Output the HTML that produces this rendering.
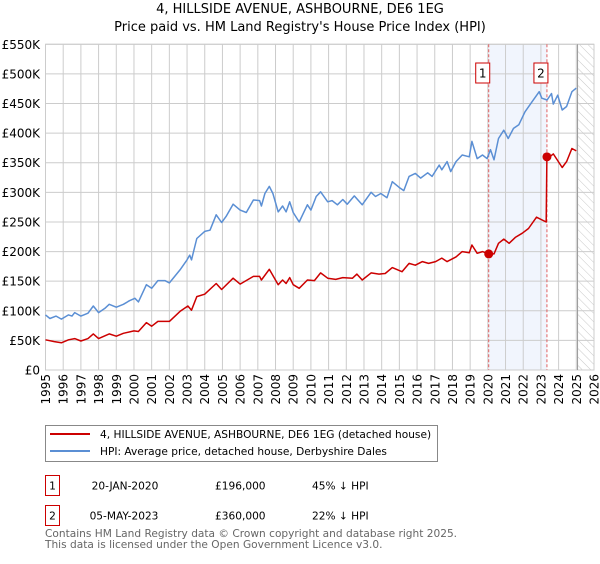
<!DOCTYPE html>
<html><head><meta charset="utf-8"><style>
body{margin:0;background:#fff;font-family:"DejaVu Sans","Liberation Sans",sans-serif;}
svg text{font-family:"DejaVu Sans","Liberation Sans",sans-serif;}
</style></head><body>
<svg id="chart" width="600" height="560" xmlns="http://www.w3.org/2000/svg">
<defs><pattern id="hatch" width="6" height="6" patternUnits="userSpaceOnUse" patternTransform="rotate(-45)"><line x1="0" y1="0" x2="0" y2="6" stroke="#bbb" stroke-width="0.8"/></pattern></defs>
<text x="300" y="13" text-anchor="middle" font-size="13">4, HILLSIDE AVENUE, ASHBOURNE, DE6 1EG</text>
<text x="300" y="31" text-anchor="middle" font-size="13">Price paid vs. HM Land Registry's House Price Index (HPI)</text>
<g id="plot"></g>
<g>
<rect x="45.5" y="425.5" width="392" height="36" fill="#fff" stroke="#888"/>
<line x1="50" y1="434" x2="90" y2="434" stroke="#cc0000" stroke-width="2"/>
<text x="100" y="438" font-size="10.6">4, HILLSIDE AVENUE, ASHBOURNE, DE6 1EG (detached house)</text>
<line x1="50" y1="451" x2="90" y2="451" stroke="#5b8fd4" stroke-width="2"/>
<text x="100" y="455" font-size="10.6">HPI: Average price, detached house, Derbyshire Dales</text>
</g>
<g font-size="10.6">
<rect x="45.5" y="475.5" width="14" height="20" fill="#fff" stroke="#cc0000"/>
<text x="52.5" y="489.5" text-anchor="middle">1</text>
<text x="125" y="489.5" text-anchor="middle">20-JAN-2020</text>
<text x="215" y="489.5">£196,000</text>
<text x="312" y="489.5">45% ↓ HPI</text>
<rect x="45.5" y="505.5" width="14" height="20" fill="#fff" stroke="#cc0000"/>
<text x="52.5" y="519.5" text-anchor="middle">2</text>
<text x="124" y="519.5" text-anchor="middle">05-MAY-2023</text>
<text x="215" y="519.5">£360,000</text>
<text x="312" y="519.5">22% ↓ HPI</text>
</g>
<text x="45" y="537" font-size="10.6" fill="#666">Contains HM Land Registry data © Crown copyright and database right 2025.</text>
<text x="45" y="548" font-size="10.6" fill="#666">This data is licensed under the Open Government Licence v3.0.</text>
</svg>
<script>
const hpiYears=[1995,1995.25,1995.6,1995.9,1996.3,1996.5,1996.65,1997,1997.4,1997.7,1998,1998.35,1998.6,1999,1999.4,1999.75,2000.05,2000.25,2000.7,2001,2001.35,2001.75,2002,2002.6,2003,2003.15,2003.25,2003.55,2004,2004.3,2004.65,2004.95,2005.2,2005.6,2006,2006.35,2006.75,2007.1,2007.2,2007.4,2007.65,2007.85,2008.15,2008.4,2008.6,2008.8,2009,2009.34,2009.53,2009.8,2010,2010.3,2010.55,2010.95,2011.2,2011.5,2011.8,2012.05,2012.45,2012.9,2013.4,2013.65,2013.95,2014.3,2014.6,2015,2015.25,2015.55,2015.9,2016.2,2016.6,2016.85,2017.25,2017.4,2017.7,2017.9,2018.2,2018.55,2018.95,2019.1,2019.4,2019.7,2019.95,2020.15,2020.35,2020.6,2020.9,2021.15,2021.45,2021.75,2022.1,2022.5,2022.9,2023.05,2023.35,2023.6,2023.7,2023.95,2024.2,2024.45,2024.75,2025];
const hpiValues=[93,87,91,86,93,91,97,91,96,108,97,104,111,106,111,117,121,115,144,138,151,151,147,169,186,194,186,222,234,236,262,249,259,280,270,266,287,286,277,298,310,298,267,277,267,284,266,250,262,279,270,293,301,284,286,279,288,280,294,279,300,293,298,291,318,308,303,327,332,324,333,327,346,338,352,335,352,363,360,386,357,363,357,372,355,391,405,391,408,414,436,453,470,459,456,467,449,464,439,445,470,476];
const priceYears=[1995,1995.5,1995.9,1996.3,1996.65,1997,1997.4,1997.7,1998,1998.6,1999,1999.4,2000,2000.25,2000.7,2001,2001.35,2002,2002.6,2003.05,2003.25,2003.55,2004,2004.65,2004.95,2005.6,2006,2006.75,2007.1,2007.2,2007.65,2008.15,2008.4,2008.6,2008.8,2009,2009.34,2009.8,2010.2,2010.55,2010.95,2011.4,2011.8,2012.35,2012.6,2012.9,2013.4,2013.85,2014.2,2014.6,2015.15,2015.55,2015.9,2016.3,2016.65,2017.05,2017.4,2017.7,2018.2,2018.55,2018.95,2019.1,2019.4,2019.7,2020.05,2020.35,2020.6,2020.9,2021.2,2021.55,2021.95,2022.3,2022.75,2023.3,2023.34,2023.45,2023.7,2024.2,2024.45,2024.75,2025];
const priceValues=[51,48,46,51,53,49,53,61,53,61,57,62,66,65,80,74,82,82,99,108,101,124,128,146,136,155,145,158,158,152,170,144,152,146,156,144,138,152,151,164,155,153,156,155,162,152,164,162,163,173,166,180,177,183,180,183,189,183,191,200,198,211,197,200,196,196,214,221,214,224,231,239,258,250,360,359,365,342,352,374,370];
const saleYears=[2020.05,2023.34];
const saleValues=[196,360];
const saleLabels=["1","2"];
const yTicks=[0,50,100,150,200,250,300,350,400,450,500,550];
const yTickLabels=["£0","£50K","£100K","£150K","£200K","£250K","£300K","£350K","£400K","£450K","£500K","£550K"];
const xTicks=[1995,1996,1997,1998,1999,2000,2001,2002,2003,2004,2005,2006,2007,2008,2009,2010,2011,2012,2013,2014,2015,2016,2017,2018,2019,2020,2021,2022,2023,2024,2025,2026];

const L=45.5,R=594,T=44.3,B=370;
const X=y=>L+(y-1995)/(2026-1995)*(R-L);
const Y=v=>B-v/550*(B-T);
const NS="http://www.w3.org/2000/svg";
const g=document.getElementById('plot');
function mk(tag,attrs,parent){const e=document.createElementNS(NS,tag);for(const k in attrs)e.setAttribute(k,attrs[k]);(parent||g).appendChild(e);return e;}
let sh=mk('rect',{x:X(saleYears[0]),y:T,width:X(saleYears[1])-X(saleYears[0]),height:B-T,fill:'#eef3fc',opacity:0.8});


let ht=mk('rect',{x:X(2025.07),y:T,width:R-X(2025.07),height:B-T,fill:'url(#hatch)'});


yTicks.forEach((v,i)=>{
 let ln=mk('line',{x1:L,x2:R,y1:Y(v),y2:Y(v),stroke:'#cccccc','stroke-width':1});
 
 
 let t=mk('text',{x:40,y:Y(v)+4.5,'text-anchor':'end','font-size':12});
 t.textContent=yTickLabels[i];
 
 
});
xTicks.forEach(yr=>{
 let ln=mk('line',{x1:X(yr),x2:X(yr),y1:T,y2:B,stroke:'#cccccc','stroke-width':1});
 
 
 let t=mk('text',{x:0,y:0,'text-anchor':'end','font-size':12,transform:`translate(${X(yr)+4.5},374) rotate(-90)`});
 t.textContent=yr;
 
 
});
let bx=mk('rect',{x:L,y:T,width:R-L,height:B-T,fill:'none',stroke:'#cccccc'});


let nl=mk('line',{x1:X(2025.07),x2:X(2025.07),y1:T,y2:B,stroke:'#999','stroke-width':1});


saleYears.forEach((yr,i)=>{
 let ln=mk('line',{x1:X(yr),x2:X(yr),y1:T,y2:B,stroke:'#e06060','stroke-width':1,'stroke-dasharray':'3,2'});
 
 
 let r=mk('rect',{x:X(yr)-13,y:63,width:14,height:20,fill:'#fff',stroke:'#cc0000'});
 
 
 let t=mk('text',{x:X(yr)-6,y:77.5,'text-anchor':'middle','font-size':12});
 t.textContent=saleLabels[i];
 
 
});
function path(xs,vs){return xs.map((x,i)=>(i?'L':'M')+X(x).toFixed(1)+','+Y(vs[i]).toFixed(1)).join(' ');}
let hp=mk('path',{d:path(hpiYears,hpiValues),fill:'none',stroke:'#5b8fd4','stroke-width':1.5,'stroke-linejoin':'round'});


let pp=mk('path',{d:path(priceYears,priceValues),fill:'none',stroke:'#cc0000','stroke-width':1.5,'stroke-linejoin':'round'});


saleYears.forEach((yr,i)=>{
 let c=mk('circle',{cx:X(yr),cy:Y(saleValues[i]),r:4.5,fill:'#cc0000'});
 
 
});
</script>
</body></html>
